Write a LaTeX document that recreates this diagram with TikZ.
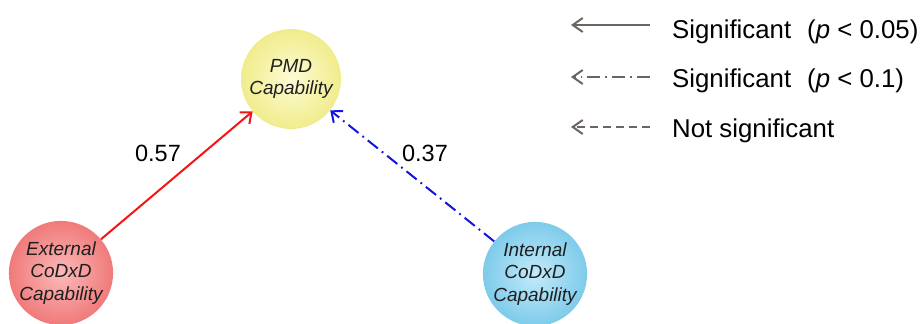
\documentclass[tikz,border=0pt]{standalone}
\usepackage{fontspec}
\setmainfont{Liberation Sans}
\usetikzlibrary{arrows.meta,calc}

\definecolor{legendgrey}{RGB}{108,100,96}
\definecolor{pathred}{RGB}{245,20,20}
\definecolor{pathblue}{RGB}{20,20,225}
\definecolor{yelin}{RGB}{253,252,212}
\definecolor{yelout}{RGB}{240,236,140}
\definecolor{redin}{RGB}{252,185,185}
\definecolor{redout}{RGB}{240,122,122}
\definecolor{bluin}{RGB}{195,234,250}
\definecolor{bluout}{RGB}{126,203,234}

\tikzset{
  bubble/.style n args={2}{
    circle, minimum size=100pt, inner sep=0pt,
    inner color=#1, outer color=#2,
    align=center, text=black!88,
    font=\itshape\fontsize{19}{22.5}\selectfont,
    path picture={
      \fill[white,opacity=0.55]
        ($(path picture bounding box.north)+(0,-13)$) ellipse (26pt and 9pt);
    }
  },
  pathlabel/.style={font=\fontsize{23.5}{26}\selectfont, text=black},
  legendtext/.style={anchor=base west, inner sep=0pt, font=\fontsize{25.8}{28}\selectfont, text=black},
  sigpath/.style={-{Straight Barb[length=9pt,width=15pt,line width=2pt]}, line width=2pt},
  legendline/.style={-{Straight Barb[length=10pt,width=14pt,line width=2pt]}, line width=2pt, draw=legendgrey},
  dashdotpat/.style={dash pattern=on 13pt off 5pt on 1.8pt off 5pt},
  dashpat/.style={dash pattern=on 8pt off 5pt}
}

\begin{document}
\begin{tikzpicture}[x=1pt,y=-1pt]
  \useasboundingbox (0,0) rectangle (922,324);

  % construct bubbles
  \node[bubble={yelin}{yelout}] (pmd) at (291,79) {PMD\\Capability};
  \node[bubble={redin}{redout}] (ext) at (61,273) {External\\CoDxD\\Capability};
  \node[bubble={bluin}{bluout}] (int) at (535,274) {Internal\\CoDxD\\Capability};

  % structural paths
  \draw[sigpath, draw=pathred] (ext) -- (pmd);
  \draw[sigpath, draw=pathblue, dashdotpat] (int) -- (pmd);

  \node[pathlabel] (c1) at (158,153) {0.57};
  \node[pathlabel] (c2) at (425,153) {0.37};

  % legend
  \coordinate (l1a) at (650,25);  \coordinate (l1b) at (571,25);
  \coordinate (l2a) at (650,77);  \coordinate (l2b) at (571,77);
  \coordinate (l3a) at (650,127); \coordinate (l3b) at (571,127);
  \draw[legendline] (l1a) -- (l1b);
  \draw[legendline, dashdotpat] (l2a) -- (l2b);
  \draw[legendline, dashpat] (l3a) -- (l3b);

  \node[legendtext] (t1) at (672,38) {Significant\hspace{0.62em}(\textit{p} < 0.05)};
  \node[legendtext] (t2) at (672,87) {Significant\hspace{0.62em}(\textit{p} < 0.1)};
  \node[legendtext] (t3) at (672,137) {Not significant};
\end{tikzpicture}
\end{document}
